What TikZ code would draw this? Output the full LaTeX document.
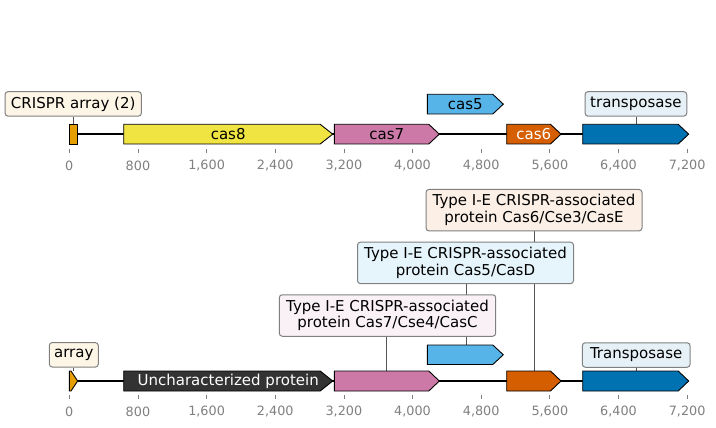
\documentclass[tikz,border=0pt]{standalone}
\usepackage{fontspec}
\setmainfont{DejaVu Sans}
\usetikzlibrary{backgrounds}
\definecolor{corange}{HTML}{E69F00}
\definecolor{cyellow}{HTML}{F0E442}
\definecolor{cpink}{HTML}{CC79A7}
\definecolor{csky}{HTML}{56B4E9}
\definecolor{cverm}{HTML}{D55E00}
\definecolor{cblue}{HTML}{0072B2}
\definecolor{cdark}{HTML}{333333}
\definecolor{boxgray}{HTML}{808080}
\definecolor{tickgray}{HTML}{808080}
\definecolor{conngray}{HTML}{555555}
\definecolor{fOrange}{HTML}{FDF5E6}
\definecolor{fVerm}{HTML}{FBEFE6}
\definecolor{fSky}{HTML}{E6F4FC}
\definecolor{fPink}{HTML}{F9F1F6}
\definecolor{fBlue}{HTML}{E6F1F7}
\newcommand\gArrow[6]{% x1 x2 ytop ybot color head
  \filldraw[fill=#5,draw=black,line width=0.9pt,line join=miter]
    (#1,#3) -- ({#2-#6},#3) -- (#2,{(#3+#4)/2}) -- ({#2-#6},#4) -- (#1,#4) -- cycle;}
\begin{document}
\begin{tikzpicture}[x=1pt,y=-1pt,
  lbl/.style={draw=boxgray,line width=1pt,rounded corners=3pt,inner sep=0pt,
    font=\fontsize{15}{16.7}\selectfont,align=center},
  one/.style={lbl,minimum height=24.5pt},
  two/.style={lbl,minimum height=41.5pt},
  gtext/.style={font=\fontsize{15}{17}\selectfont,inner sep=0pt},
  ticklab/.style={font=\fontsize{12.8}{15}\selectfont,text=tickgray,inner sep=0pt},
  conn/.style={draw=conngray,line width=0.8pt},
  backbone/.style={line width=2pt,black}]
\useasboundingbox (0,0) rectangle (716,428);

% ---------- top track ----------
\draw[backbone] (69.3,134) -- (688,134);
\filldraw[fill=corange,draw=black,line width=0.9pt] (69.3,124.3) rectangle (77.7,144);
\gArrow{123.7}{332.7}{124.3}{144}{cyellow}{12.5}
\gArrow{334.3}{439.3}{124.3}{144}{cpink}{10.5}
\gArrow{427.3}{503.3}{94.3}{114}{csky}{10.5}
\gArrow{506.7}{561}{124.3}{144}{cverm}{10.5}
\gArrow{582.7}{688.7}{124.3}{144}{cblue}{10.5}
\node[gtext] (t8) at (228.2,134) {cas8};
\node[gtext] (t7) at (386.8,134) {cas7};
\node[gtext] (t5) at (465.3,104.2) {cas5};
\node[gtext,text=white] (t6) at (533.8,134) {cas6};
\coordinate (gA) at (73.5,124.3);
\coordinate (gT) at (635.9,124.3);
\node[one,fill=fOrange,minimum width=136.3pt] (bA) at (73.2,103.9) {CRISPR array (2)};
\node[one,fill=fBlue,minimum width=101.7pt] (bT) at (635.9,103.9) {transposase};

% ticks top
\foreach \v/\t in {0/0,1/800,2/{1,600},3/{2,400},4/{3,200},5/{4,000},6/{4,800},7/{5,600},8/{6,400},9/{7,200}}{
  \draw[tickgray,line width=0.8pt] ({69.3+\v*68.65},149.3) -- ({69.3+\v*68.65},153.3);
  \node[ticklab] (tt\v) at ({69.3+\v*68.65},165.7) {\t};
  \draw[tickgray,line width=0.8pt] ({69.3+\v*68.65},395) -- ({69.3+\v*68.65},398.5);
  \node[ticklab] (tb\v) at ({69.3+\v*68.65},411.7) {\t};
}

% ---------- bottom track ----------
\draw[backbone] (69.3,380.7) -- (688,380.7);
\filldraw[fill=corange,draw=black,line width=0.9pt,line join=miter]
  (69.3,371) -- (71,371) -- (77.7,381) -- (71,391) -- (69.3,391) -- cycle;
\gArrow{123.7}{332.7}{371}{391}{cdark}{12.5}
\gArrow{334.3}{439.3}{371}{391}{cpink}{10.5}
\gArrow{427.3}{503.3}{345}{364.5}{csky}{10.5}
\gArrow{506.7}{561}{371}{391}{cverm}{10.5}
\gArrow{582.7}{688.7}{371}{391}{cblue}{10.5}
\node[gtext,text=white] (tU) at (228.2,381) {Uncharacterized protein};
\coordinate (ga) at (73.5,371);
\coordinate (gC7) at (386.7,371);
\coordinate (gC5) at (466,345);
\coordinate (gC6) at (534.3,371);
\coordinate (gT2) at (636.2,371);

\node[one,fill=fOrange,minimum width=49pt] (ba) at (73.8,354.8) {array};
\node[one,fill=fBlue,minimum width=107.7pt] (bT2) at (636.2,355) {Transposase};
\node[two,fill=fVerm,minimum width=216pt] (bE) at (534,210.2)
  {Type I-E CRISPR-associated\\protein Cas6/Cse3/CasE};
\node[two,fill=fSky,minimum width=216pt] (bD) at (465.5,262.9)
  {Type I-E CRISPR-associated\\protein Cas5/CasD};
\node[two,fill=fPink,minimum width=216.4pt] (bC) at (387.5,315.5)
  {Type I-E CRISPR-associated\\protein Cas7/Cse4/CasC};

\begin{scope}[on background layer]
  \draw[conn] (bA.south -| gA) -- (gA);
  \draw[conn] (bT.south -| gT) -- (gT);
  \draw[conn] (ba.south -| ga) -- (ga);
  \draw[conn] (bT2.south -| gT2) -- (gT2);
  \draw[conn] (bE.south -| gC6) -- (gC6);
  \draw[conn] (bD.south -| gC5) -- (gC5);
  \draw[conn] (bC.south -| gC7) -- (gC7);
\end{scope}
\end{tikzpicture}
\end{document}
